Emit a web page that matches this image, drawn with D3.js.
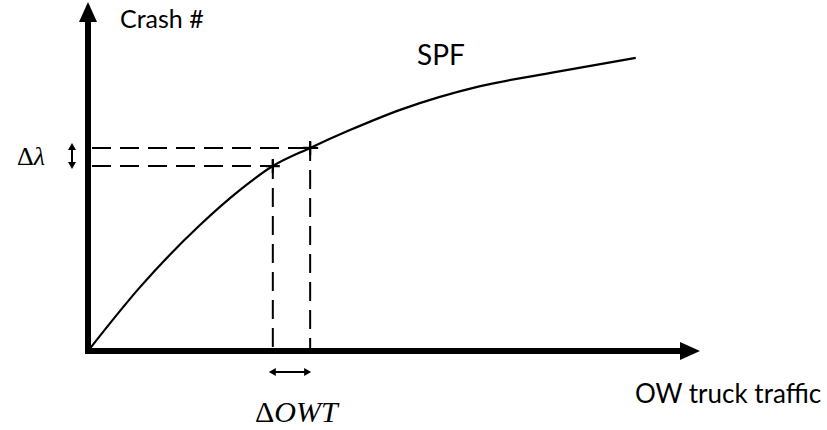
<!DOCTYPE html>
<html>
<head>
<meta charset="utf-8">
<script src="https://cdn.jsdelivr.net/npm/d3@7"></script>
<style>
  html, body { margin: 0; padding: 0; background: #fff; }
  svg { display: block; }
</style>
</head>
<body>
<svg id="chart" width="827" height="430"></svg>
<script>
// ---- Data (abstract units) ----
const spfX = [0, 0.85, 1.83, 2.48, 3.02, 3.63, 4.28, 5.10, 6.41, 7.63, 8.95];
const spfY = [0, 1.83, 3.61, 4.61, 5.30, 5.82, 6.33, 6.91, 7.59, 7.99, 8.40];
const owtMarks = [3.02, 3.63];     // two traffic levels
const lambdaMarks = [5.30, 5.82];  // matching crash levels
const axisMax = [10, 10];
const labels = { y: "Crash #", x: "OW truck traffic", curve: "SPF" };

// ---- Layout ----
const origin = { x: 88, y: 351 };
const x = d3.scaleLinear().domain([0, axisMax[0]]).range([origin.x, 700]);
const y = d3.scaleLinear().domain([0, axisMax[1]]).range([origin.y, 2]);

const svg = d3.select("#chart");
const g = svg.append("g");
const sans = "Lato, 'Open Sans', sans-serif";
const serif = "'Liberation Serif', 'DejaVu Serif', serif";

// ---- Axes (thick lines with arrowheads) ----
const axW = 6, headL = 20, headHW = 9;
g.append("line")
  .attr("x1", x(0) - axW / 2).attr("y1", y(0))
  .attr("x2", x(axisMax[0]) - headL + 2).attr("y2", y(0))
  .attr("stroke", "#000").attr("stroke-width", axW);
g.append("path")
  .attr("d", `M${x(axisMax[0])},${y(0)} L${x(axisMax[0]) - headL},${y(0) - headHW} L${x(axisMax[0]) - headL},${y(0) + headHW} Z`)
  .attr("fill", "#000");
g.append("line")
  .attr("x1", x(0)).attr("y1", y(0) + axW / 2)
  .attr("x2", x(0)).attr("y2", y(axisMax[1]) + headL - 2)
  .attr("stroke", "#000").attr("stroke-width", axW);
g.append("path")
  .attr("d", `M${x(0)},${y(axisMax[1])} L${x(0) - headHW},${y(axisMax[1]) + headL} L${x(0) + headHW},${y(axisMax[1]) + headL} Z`)
  .attr("fill", "#000");

// ---- Dashed guide lines ----
const dash = "19,9";
owtMarks.forEach((ox, i) => {
  const ly = lambdaMarks[i];
  g.append("line")
    .attr("x1", x(0) + 4).attr("y1", y(ly))
    .attr("x2", x(ox) + 8).attr("y2", y(ly))
    .attr("stroke", "#000").attr("stroke-width", 2).attr("stroke-dasharray", dash);
  g.append("line")
    .attr("x1", x(ox)).attr("y1", y(ly) - 6)
    .attr("x2", x(ox)).attr("y2", y(0) - 3)
    .attr("stroke", "#000").attr("stroke-width", 2).attr("stroke-dasharray", dash);
});

// ---- SPF curve ----
const pts = spfX.map((v, i) => [v, spfY[i]]);
const line = d3.line().x(d => x(d[0])).y(d => y(d[1])).curve(d3.curveMonotoneX);
g.append("path")
  .attr("d", line(pts))
  .attr("fill", "none").attr("stroke", "#000").attr("stroke-width", 2.2);

// ---- Crosses at marked points ----
owtMarks.forEach((ox, i) => {
  const cx = x(ox), cy = y(lambdaMarks[i]);
  g.append("path")
    .attr("d", `M${cx - 7},${cy} H${cx + 7} M${cx},${cy - 7} V${cy + 7}`)
    .attr("stroke", "#000").attr("stroke-width", 2.2);
});

// ---- Double arrows ----
function dblArrow(x1, y1, x2, y2) {
  const ang = Math.atan2(y2 - y1, x2 - x1);
  const L = 7, HW = 4;
  const head = (tx, ty, a) => {
    const bx = tx - L * Math.cos(a), by = ty - L * Math.sin(a);
    const px = -Math.sin(a) * HW, py = Math.cos(a) * HW;
    return `M${tx},${ty} L${bx + px},${by + py} L${bx - px},${by - py} Z`;
  };
  g.append("line")
    .attr("x1", x1 + 4 * Math.cos(ang)).attr("y1", y1 + 4 * Math.sin(ang))
    .attr("x2", x2 - 4 * Math.cos(ang)).attr("y2", y2 - 4 * Math.sin(ang))
    .attr("stroke", "#000").attr("stroke-width", 2);
  g.append("path").attr("d", head(x2, y2, ang)).attr("fill", "#000");
  g.append("path").attr("d", head(x1, y1, ang + Math.PI)).attr("fill", "#000");
}
dblArrow(72, y(lambdaMarks[1]) - 5, 72, y(lambdaMarks[0]) + 3);
dblArrow(x(owtMarks[0]) - 4, 372, x(owtMarks[1]) + 1, 372);

// ---- Texts ----
g.append("text").attr("x", 120).attr("y", 28)
  .attr("font-family", sans).attr("font-size", 25).text(labels.y);
g.append("text").attr("x", 417).attr("y", 65)
  .attr("font-family", sans).attr("font-size", 28).text(labels.curve);
g.append("text").attr("x", 635).attr("y", 403)
  .attr("font-family", sans).attr("font-size", 26).text(labels.x);

const dl = g.append("text").attr("x", 17).attr("y", 165)
  .attr("font-family", serif).attr("font-size", 26);
dl.append("tspan").text("Δ");
dl.append("tspan").attr("font-style", "italic").text("λ");

const dw = g.append("text").attr("x", 255).attr("y", 422)
  .attr("font-family", serif).attr("font-size", 30);
dw.append("tspan").text("Δ");
dw.append("tspan").attr("font-style", "italic").text("OWT");
</script>
</body>
</html>
